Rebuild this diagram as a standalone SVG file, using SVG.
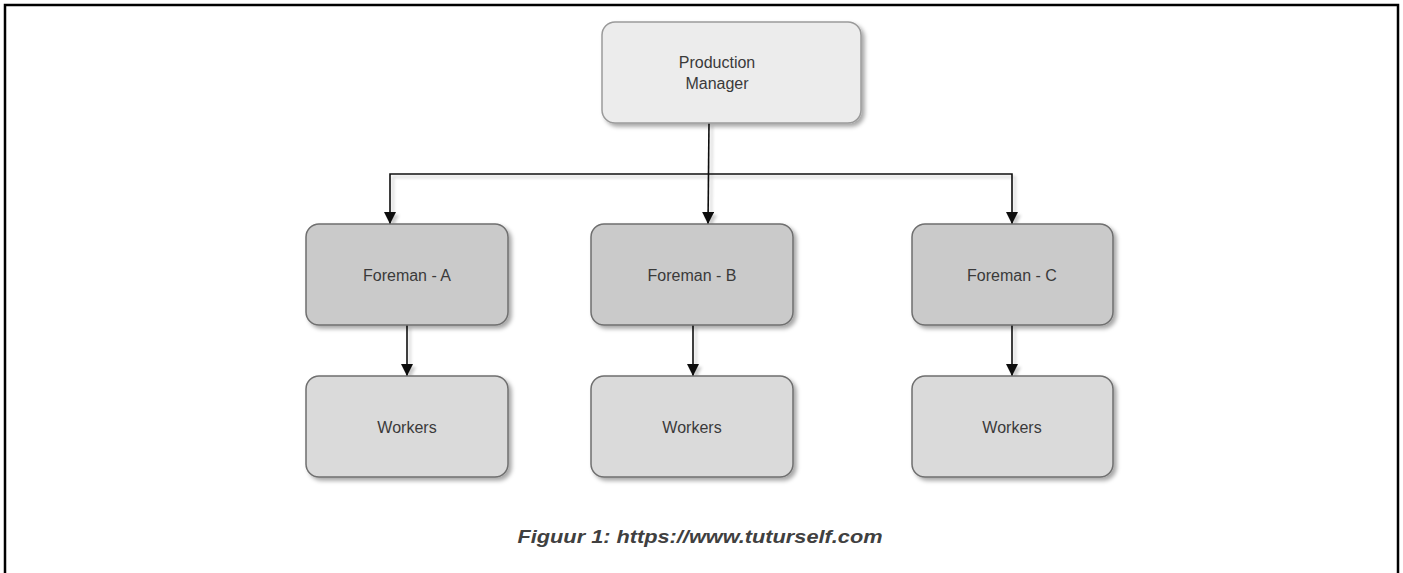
<svg xmlns="http://www.w3.org/2000/svg" width="1403" height="573" viewBox="0 0 1403 573">
  <style>
    .node { stroke: #6f6f6f; stroke-width: 1.5; filter: url(#shadow); }
    .top { fill: #ececec; stroke: #9a9a9a; }
    .fore { fill: #cacaca; }
    .work { fill: #dadada; }
    .lbl { font-family: "Liberation Sans", Arial, sans-serif; font-size: 16px; fill: #3a3a3a; text-anchor: middle; }
    .edge { fill: none; stroke: #111; stroke-width: 1.6; }
    .cap { font-family: "Liberation Sans", Arial, sans-serif; font-size: 19px; font-weight: bold; font-style: italic; fill: #404040; text-anchor: middle; }
  </style>
  <defs>
    <filter id="shadow" x="-10%" y="-10%" width="130%" height="140%">
      <feDropShadow dx="3" dy="3" stdDeviation="2" flood-color="#000" flood-opacity="0.35"/>
    </filter>
    <filter id="lshadow" x="-10%" y="-10%" width="130%" height="130%">
      <feDropShadow dx="3" dy="3" stdDeviation="1.5" flood-color="#000" flood-opacity="0.2"/>
    </filter>
    <marker id="arrow" viewBox="0 0 12 14" refX="12" refY="6" markerWidth="12" markerHeight="14" markerUnits="userSpaceOnUse" orient="auto">
      <path d="M0,0 L12,6 L0,12 Z" fill="#111"/>
    </marker>
  </defs>
  <rect x="5" y="5" width="1393" height="600" fill="#fff" stroke="#000" stroke-width="2.5"/>

  <g id="connectors" filter="url(#lshadow)">
    <path class="edge" d="M709,123 L708,224" marker-end="url(#arrow)"/>
    <path class="edge" d="M709,174 L390,174 L390,224" marker-end="url(#arrow)"/>
    <path class="edge" d="M709,174 L1012,174 L1012,224" marker-end="url(#arrow)"/>
    <path class="edge" d="M407,325 L407,376" marker-end="url(#arrow)"/>
    <path class="edge" d="M693,325 L693,376" marker-end="url(#arrow)"/>
    <path class="edge" d="M1012,325 L1012,376" marker-end="url(#arrow)"/>
  </g>

  <g id="production-manager">
    <rect class="node top" x="602" y="22" width="259" height="101" rx="13"/>
    <text class="lbl" x="717" y="68">Production</text>
    <text class="lbl" x="717" y="89">Manager</text>
  </g>
  <g id="foreman-a">
    <rect class="node fore" x="306" y="224" width="202" height="101" rx="13"/>
    <text class="lbl" x="407" y="281">Foreman - A</text>
  </g>
  <g id="foreman-b">
    <rect class="node fore" x="591" y="224" width="202" height="101" rx="13"/>
    <text class="lbl" x="692" y="281">Foreman - B</text>
  </g>
  <g id="foreman-c">
    <rect class="node fore" x="912" y="224" width="201" height="101" rx="13"/>
    <text class="lbl" x="1012" y="281">Foreman - C</text>
  </g>
  <g id="workers-a">
    <rect class="node work" x="306" y="376" width="202" height="101" rx="13"/>
    <text class="lbl" x="407" y="433">Workers</text>
  </g>
  <g id="workers-b">
    <rect class="node work" x="591" y="376" width="202" height="101" rx="13"/>
    <text class="lbl" x="692" y="433">Workers</text>
  </g>
  <g id="workers-c">
    <rect class="node work" x="912" y="376" width="201" height="101" rx="13"/>
    <text class="lbl" x="1012" y="433">Workers</text>
  </g>

  <text class="cap" x="700" y="543" textLength="365" lengthAdjust="spacingAndGlyphs">Figuur 1: https://www.tuturself.com</text>
</svg>
